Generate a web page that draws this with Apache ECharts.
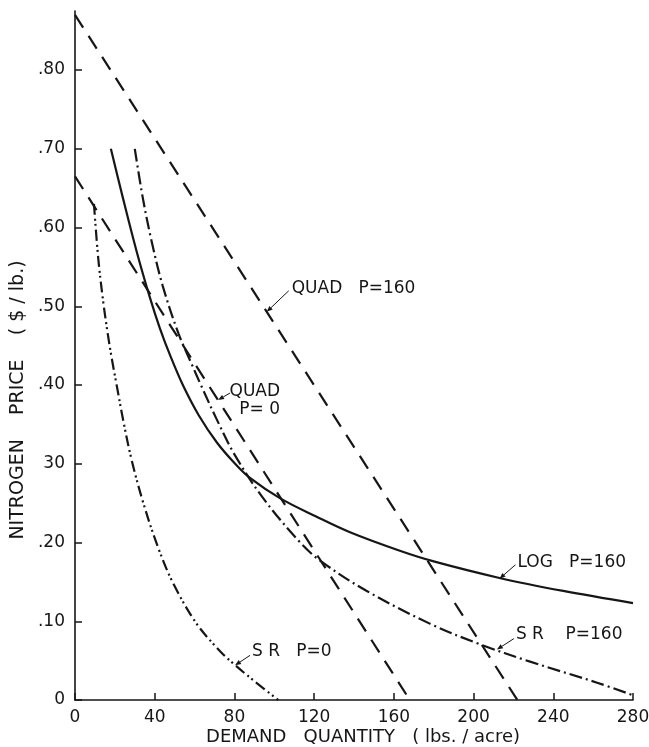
<!DOCTYPE html>
<html>
<head>
<meta charset="utf-8">
<title>Nitrogen demand curves</title>
<script src="https://cdn.jsdelivr.net/npm/echarts@6/dist/echarts.min.js"></script>
<style>
  html, body { margin: 0; padding: 0; background: #fff; }
  #chart { width: 649px; height: 747px; }
</style>
</head>
<body>
<div id="chart"></div>
<script>
// tick values and labels ("30" is printed without its dot)
const yTicks = [0, 0.1, 0.2, 0.3, 0.4, 0.5, 0.6, 0.7, 0.8];
const yTickLabels = ["0", ".10", ".20", "30", ".40", ".50", ".60", ".70", ".80"];

// demand curves: [quantity lbs/acre, price $/lb]
const quadP160 = [[0, 0.87], [222, 0]];
const quadP0 = [[0, 0.665], [168, 0]];
const logP160 = [
  [18, 0.70], [24, 0.638], [31, 0.569], [37.6, 0.511], [42.6, 0.472], [48, 0.436],
  [54.3, 0.399], [62, 0.362], [71.2, 0.327], [80, 0.301], [87.8, 0.282], [103, 0.256],
  [121, 0.233], [138, 0.213], [163, 0.1895], [180, 0.176], [213, 0.155],
  [245, 0.1385], [280, 0.123],
];
const srP160 = [
  [30, 0.70], [34, 0.638], [38.5, 0.582], [44, 0.526], [52, 0.465], [59, 0.424],
  [63, 0.401], [71, 0.357], [80, 0.312], [94.5, 0.256], [113, 0.2], [123, 0.177],
  [146, 0.139], [178, 0.097], [203, 0.071], [228, 0.049], [262, 0.022], [280, 0.006],
];
const srP0 = [
  [9.5, 0.63], [11.7, 0.56], [14.2, 0.505], [16.5, 0.464], [18.5, 0.433],
  [20.9, 0.40], [24.2, 0.355], [28.4, 0.305], [34.3, 0.25], [41.8, 0.193],
  [49.3, 0.148], [61, 0.097], [72.8, 0.062], [80, 0.045], [90, 0.024], [102, 0],
];

// curve labels and the point on each curve their pointer touches
const labelTexts = ["QUAD   P=160", "QUAD\nP= 0", "LOG   P=160", "S R    P=160", "S R   P=0"];
const labelAnchors = [[96.2, 0.493], [71.8, 0.381], [213, 0.154], [211.7, 0.064], [80.3, 0.044]];

const ink = "#161616";
const font = "DejaVu Sans";

const chart = echarts.init(document.getElementById("chart"));

function curve(name, data, dash, smooth) {
  return {
    name,
    type: "line",
    data,
    smooth: smooth ? 0.35 : false,
    showSymbol: false,
    silent: true,
    lineStyle: { color: ink, width: 2.2, type: dash },
  };
}

chart.setOption({
  animation: false,
  backgroundColor: "#fff",
  grid: { left: 75, right: 16, top: 11, bottom: 47, outerBoundsMode: "none", containLabel: false },
  xAxis: {
    type: "value",
    min: 0,
    max: 280,
    interval: 40,
    axisLine: { lineStyle: { color: ink, width: 1.6 } },
    axisTick: { inside: true, length: 7, lineStyle: { color: ink, width: 1.5 } },
    axisLabel: { color: ink, fontFamily: font, fontSize: 17, margin: 9 },
    splitLine: { show: false },
  },
  yAxis: {
    type: "value",
    min: 0,
    max: 0.875,
    axisLine: { show: true, lineStyle: { color: ink, width: 1.6 } },
    axisTick: {
      show: true,
      inside: true,
      length: 7,
      customValues: yTicks,
      lineStyle: { color: ink, width: 1.5 },
    },
    axisLabel: {
      color: ink,
      fontFamily: font,
      fontSize: 17,
      margin: 10,
      customValues: yTicks,
      formatter: (v) => yTickLabels[Math.round(v * 10)],
    },
    splitLine: { show: false },
  },
  series: [
    curve("QUAD P=160", quadP160, [15, 10], false),
    curve("QUAD P=0", quadP0, [15, 10], false),
    curve("LOG P=160", logP160, "solid", true),
    curve("SR P=160", srP160, [13, 4, 2, 4], true),
    curve("SR P=0", srP0, [11, 4, 2, 3, 2, 4], true),
  ],
});

// pointer + text for each curve label, offsets in px from the anchor
const labelOffsets = [
  { tail: [22, -21], text: [25, -23], align: "left" },
  { tail: [12, -7], text: [62, -17], align: "right" },
  { tail: [16, -14], text: [18, -16], align: "left" },
  { tail: [17, -11], text: [19, -15], align: "left" },
  { tail: [15, -10], text: [17, -14], align: "left" },
];

function arrow(from, to) {
  const dx = to[0] - from[0];
  const dy = to[1] - from[1];
  const len = Math.hypot(dx, dy);
  const ux = dx / len;
  const uy = dy / len;
  const h = 6;
  const w = 2.4;
  const bx = to[0] - ux * h;
  const by = to[1] - uy * h;
  return [
    {
      type: "line",
      shape: { x1: from[0], y1: from[1], x2: bx, y2: by },
      style: { stroke: ink, lineWidth: 1 },
    },
    {
      type: "polygon",
      shape: { points: [to, [bx - uy * w, by + ux * w], [bx + uy * w, by - ux * w]] },
      style: { fill: ink },
    },
  ];
}

const graphics = [];
labelAnchors.forEach((a, i) => {
  const p = chart.convertToPixel({ gridIndex: 0 }, a);
  const o = labelOffsets[i];
  graphics.push(...arrow([p[0] + o.tail[0], p[1] + o.tail[1]], p));
  const multi = labelTexts[i].includes("\n");
  graphics.push({
    type: "text",
    x: p[0] + o.text[0],
    y: p[1] + o.text[1],
    style: {
      text: labelTexts[i],
      fill: ink,
      font: `17px "${font}"`,
      textAlign: o.align,
      textVerticalAlign: multi ? "top" : "middle",
      lineHeight: 18,
    },
  });
});

// axis titles
graphics.push({
  type: "text",
  x: 363,
  y: 737,
  style: {
    text: "DEMAND   QUANTITY   ( lbs. / acre)",
    fill: ink,
    font: `18px "${font}"`,
    textAlign: "center",
    textVerticalAlign: "middle",
  },
});
graphics.push({
  type: "text",
  x: 18,
  y: 400,
  rotation: Math.PI / 2,
  style: {
    text: "NITROGEN    PRICE    ( $ / lb.)",
    fill: ink,
    font: `19px "${font}"`,
    textAlign: "center",
    textVerticalAlign: "middle",
  },
});

chart.setOption({ graphic: graphics });
window.addEventListener("resize", () => chart.resize());
</script>
</body>
</html>
